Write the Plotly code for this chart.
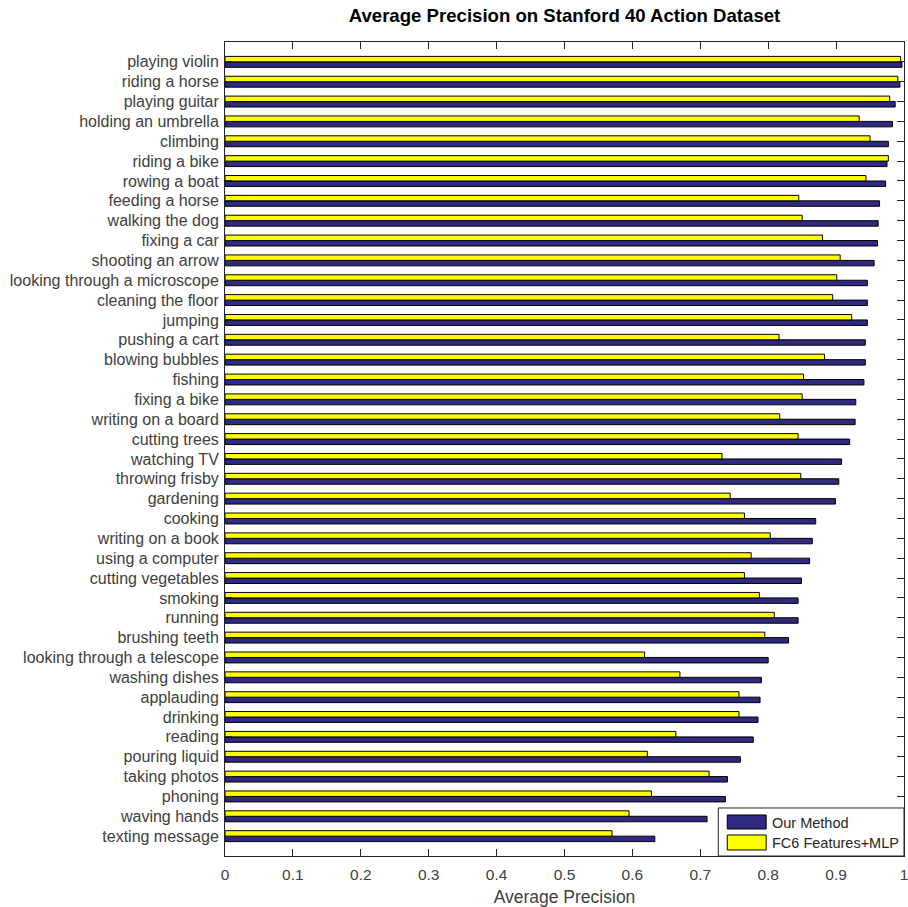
import plotly.graph_objects as go

# Action classes, listed from top to bottom of the chart
actions = [
    "playing violin", "riding a horse", "playing guitar", "holding an umbrella",
    "climbing", "riding a bike", "rowing a boat", "feeding a horse",
    "walking the dog", "fixing a car", "shooting an arrow",
    "looking through a microscope", "cleaning the floor", "jumping",
    "pushing a cart", "blowing bubbles", "fishing", "fixing a bike",
    "writing on a board", "cutting trees", "watching TV", "throwing frisby",
    "gardening", "cooking", "writing on a book", "using a computer",
    "cutting vegetables", "smoking", "running", "brushing teeth",
    "looking through a telescope", "washing dishes", "applauding", "drinking",
    "reading", "pouring liquid", "taking photos", "phoning", "waving hands",
    "texting message",
]

our_method = [
    0.997, 0.994, 0.987, 0.983, 0.977, 0.975, 0.973, 0.964, 0.962, 0.961,
    0.956, 0.946, 0.946, 0.946, 0.943, 0.943, 0.941, 0.929, 0.928, 0.920,
    0.908, 0.904, 0.899, 0.870, 0.865, 0.861, 0.849, 0.844, 0.844, 0.830,
    0.800, 0.790, 0.788, 0.785, 0.778, 0.759, 0.740, 0.737, 0.710, 0.633,
]

fc6_mlp = [
    0.995, 0.991, 0.979, 0.934, 0.950, 0.977, 0.944, 0.845, 0.850, 0.880,
    0.906, 0.901, 0.895, 0.923, 0.816, 0.883, 0.852, 0.850, 0.817, 0.844,
    0.732, 0.848, 0.744, 0.765, 0.803, 0.775, 0.765, 0.787, 0.809, 0.795,
    0.618, 0.670, 0.757, 0.757, 0.664, 0.622, 0.713, 0.628, 0.595, 0.570,
]

x_ticks = [0, 0.1, 0.2, 0.3, 0.4, 0.5, 0.6, 0.7, 0.8, 0.9, 1]
x_tick_text = ["0", "0.1", "0.2", "0.3", "0.4", "0.5", "0.6", "0.7", "0.8", "0.9", "1"]

BLUE = "#2f2a80"
YELLOW = "#ffff00"
TEXT = "#404040"
FONT = "Liberation Sans, Arial, sans-serif"

fig = go.Figure()
fig.add_trace(go.Bar(
    name="Our Method", y=actions, x=our_method, orientation="h",
    marker=dict(color=BLUE, line=dict(color="black", width=1)),
))
fig.add_trace(go.Bar(
    name="FC6 Features+MLP", y=actions, x=fc6_mlp, orientation="h",
    marker=dict(color=YELLOW, line=dict(color="black", width=1)),
))

fig.update_layout(
    width=908, height=907,
    margin=dict(l=225, r=0, t=42, b=51),
    paper_bgcolor="white", plot_bgcolor="white",
    barmode="group", bargap=0.45, bargroupgap=0,
    showlegend=False,
    font=dict(family=FONT, color=TEXT, size=16),
    title=dict(
        text="<b>Average Precision on Stanford 40 Action Dataset</b>",
        xref="paper", x=0.5, xanchor="center",
        yref="container", y=1 - 15 / 907, yanchor="middle",
        font=dict(family=FONT, size=18.6, color="black"),
    ),
    xaxis=dict(
        range=[0, 1], tickvals=x_ticks, ticktext=x_tick_text,
        ticks="inside", ticklen=7, tickcolor="#262626",
        showline=True, linecolor="#262626", linewidth=1, mirror="ticks",
        showgrid=False, zeroline=False,
        tickfont=dict(size=15.5, color=TEXT),
        ticklabeloverflow="allow", ticklabelstandoff=4,
        title=dict(text="Average Precision", font=dict(size=17.5, color=TEXT), standoff=10),
    ),
    yaxis=dict(
        categoryorder="array", categoryarray=actions[::-1],
        range=[-1, 40],
        ticks="inside", ticklen=7, tickcolor="#262626",
        showline=True, linecolor="#262626", linewidth=1, mirror="ticks",
        showgrid=False, zeroline=False,
        tickfont=dict(size=16, color=TEXT),
        ticklabelstandoff=2,
    ),
)

# Legend box in the lower-right corner of the axes
fig.add_shape(type="rect", xref="paper", yref="paper",
              x0=0.7265, x1=1.0, y0=0.0, y1=0.059,
              fillcolor="white", line=dict(color="#262626", width=1))
fig.add_shape(type="rect", xref="paper", yref="paper",
              x0=0.7397, x1=0.797, y0=0.0332, y1=0.0504,
              fillcolor=BLUE, line=dict(color="black", width=1))
fig.add_shape(type="rect", xref="paper", yref="paper",
              x0=0.7397, x1=0.797, y0=0.0074, y1=0.0258,
              fillcolor=YELLOW, line=dict(color="black", width=1))
fig.add_annotation(text="Our Method", xref="paper", yref="paper",
                   x=0.803, y=0.0405, xanchor="left", yanchor="middle",
                   showarrow=False, font=dict(size=14.5, color="#262626"))
fig.add_annotation(text="FC6 Features+MLP", xref="paper", yref="paper",
                   x=0.803, y=0.016, xanchor="left", yanchor="middle",
                   showarrow=False, font=dict(size=14.5, color="#262626"))

fig.write_html("out.html")
